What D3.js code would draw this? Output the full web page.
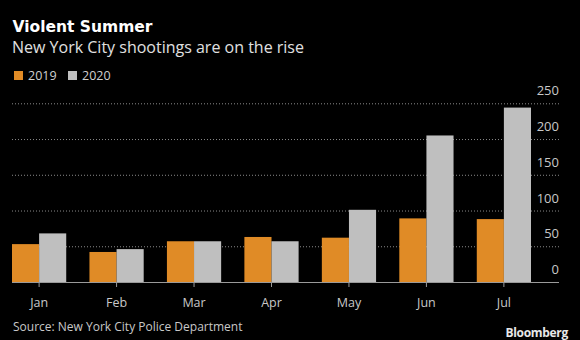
<!DOCTYPE html>
<html lang="en">
    <head>
        <meta charset="utf-8">
        <title>Violent Summer</title>
        <script src="https://d3js.org/d3.v7.min.js"></script>
        <style media="screen">
        body {
          margin: 0;
          background: #000;
        }
        svg text {
          font-family: "Open Sans", sans-serif;
        }
        svg text.title {
          font-family: "DejaVu Sans", sans-serif;
        }
        .grid line {
          stroke: #8a8a8a;
          stroke-dasharray: 1, 2;
        }
        </style>
    </head>
    <body>
        <script type="text/javascript">
        'use strict'
        let months = ["Jan", "Feb", "Mar", "Apr", "May", "Jun", "Jul"]
        let years = ["2019", "2020"]
        let shootings2019 = [53, 42, 57, 63, 62, 89, 88]
        let shootings2020 = [68, 46, 57, 57, 101, 205, 244]
        let yTicks = [0, 50, 100, 150, 200, 250]
        let colors = ["#e08b26", "#bfbfbf"]

        let w = 580
        let h = 340
        let left = 12
        let right = 559
        let base = 282

        let xScale = d3.scaleBand()
                  .domain(months)
                  .range([left, 531])
                  .paddingInner(0.3)
                  .paddingOuter(0)
        let xInner = d3.scaleBand()
                  .domain(years)
                  .range([0, xScale.bandwidth()])
        let yScale = d3.scaleLinear()
                  .domain([0, 250])
                  .range([base, 103.3])

        let svg = d3.select("body")
          .append("svg")
          .attr("width", w)
          .attr("height", h)

        svg.append("rect")
          .attr("width", w)
          .attr("height", h)
          .attr("fill", "#000")

        // titles
        svg.append("text")
          .attr("class", "title")
          .text("Violent Summer")
          .attr("x", 12.5)
          .attr("y", 31.5)
          .attr("fill", "#fff")
          .attr("font-size", "15.5px")
          .attr("font-weight", "bold")
        svg.append("text")
          .text("New York City shootings are on the rise")
          .attr("x", 12)
          .attr("y", 53)
          .attr("fill", "#e0e0e0")
          .attr("font-size", "16px")

        // legend
        let legend = svg.selectAll(".legend")
          .data(years)
          .enter()
          .append("g")
          .attr("class", "legend")
          .attr("transform", (d, i) => "translate(" + (14 + i * 54) + ",71)")
        legend.append("rect")
          .attr("width", 9)
          .attr("height", 9)
          .attr("fill", (d, i) => colors[i])
        legend.append("text")
          .text((d) => d)
          .attr("x", 14)
          .attr("y", 9)
          .attr("fill", "#d0d0d0")
          .attr("font-size", "12.5px")

        // gridlines + right axis labels
        let grid = svg.append("g")
          .attr("class", "grid")
        grid.selectAll("line")
          .data(yTicks.filter((d) => d > 0))
          .enter()
          .append("line")
          .attr("x1", left)
          .attr("x2", right)
          .attr("y1", (d) => yScale(d) + 0.5)
          .attr("y2", (d) => yScale(d) + 0.5)
        svg.selectAll(".ylabel")
          .data(yTicks)
          .enter()
          .append("text")
          .attr("class", "ylabel")
          .text((d) => d)
          .attr("x", right)
          .attr("y", (d) => yScale(d) - 8)
          .attr("text-anchor", "end")
          .attr("fill", "#c8c8c8")
          .attr("font-size", "13px")

        // bars
        let groups = svg.selectAll(".month")
          .data(months)
          .enter()
          .append("g")
          .attr("class", "month")
          .attr("transform", (d) => "translate(" + xScale(d) + ",0)")
        groups.selectAll("rect")
          .data((d, i) => [shootings2019[i], shootings2020[i]])
          .enter()
          .append("rect")
          .attr("x", (d, i) => xInner(years[i]))
          .attr("width", xInner.bandwidth())
          .attr("y", (d) => yScale(d))
          .attr("height", (d) => base - yScale(d))
          .attr("fill", (d, i) => colors[i])

        // baseline + month ticks
        svg.append("line")
          .attr("x1", left)
          .attr("x2", right)
          .attr("y1", base + 0.5)
          .attr("y2", base + 0.5)
          .attr("stroke", "#9a9a9a")
        svg.selectAll(".tick")
          .data(months)
          .enter()
          .append("line")
          .attr("class", "tick")
          .attr("x1", (d) => xScale(d) + xScale.bandwidth() / 2)
          .attr("x2", (d) => xScale(d) + xScale.bandwidth() / 2)
          .attr("y1", base)
          .attr("y2", base + 5)
          .attr("stroke", "#9a9a9a")
        svg.selectAll(".xlabel")
          .data(months)
          .enter()
          .append("text")
          .attr("class", "xlabel")
          .text((d) => d)
          .attr("x", (d) => xScale(d) + xScale.bandwidth() / 2)
          .attr("y", 307)
          .attr("text-anchor", "middle")
          .attr("fill", "#c8c8c8")
          .attr("font-size", "12.5px")

        // footer
        svg.append("text")
          .text("Source: New York City Police Department")
          .attr("x", 13)
          .attr("y", 331)
          .attr("fill", "#c8c8c8")
          .attr("font-size", "12px")
        svg.append("text")
          .text("Bloomberg")
          .attr("x", 568)
          .attr("y", 337)
          .attr("text-anchor", "end")
          .attr("fill", "#e8e8e8")
          .attr("font-size", "12px")
          .attr("font-weight", "bold")
          .attr("letter-spacing", "-0.3px")
        </script>
    </body>
</html>
